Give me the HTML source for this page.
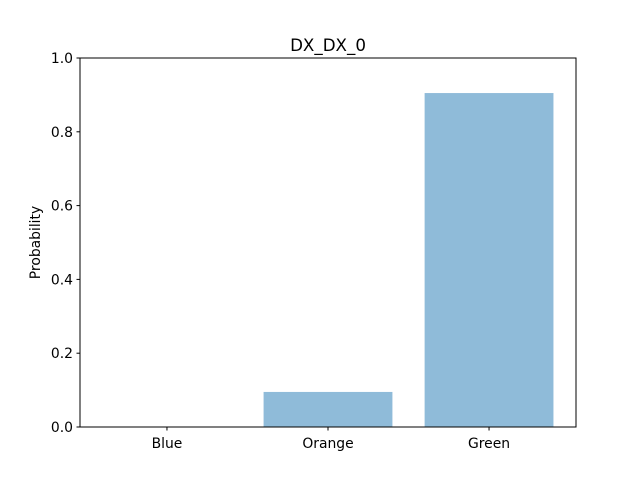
<!DOCTYPE html>
<html><head><meta charset="utf-8"><style>
body{margin:0;background:#fff;}
svg{display:block;font-family:"DejaVu Sans","Liberation Sans",sans-serif;}
</style></head><body>
<svg id="chart" width="640" height="480">
<rect width="640" height="480" fill="#fff"/>
<text x="328" y="51" text-anchor="middle" font-size="16.7">DX_DX_0</text>
<text transform="translate(40,242.5) rotate(-90)" text-anchor="middle" font-size="13.9">Probability</text>
<g id="bars"></g><g id="yticks"></g><g id="xticks"></g>
<rect x="80" y="58" width="496" height="369" fill="none" stroke="#000" stroke-width="1"/>
</svg>
<script>
const categories = ["Blue","Orange","Green"];
const values = [0.0, 0.095, 0.905];
const yTickLabels = ["0.0","0.2","0.4","0.6","0.8","1.0"];
const yTickValues = [0,0.2,0.4,0.6,0.8,1.0];

const L=80,R=576,T=58,B=427;
const xmin=-0.54,xmax=2.54;
const xs=v=>L+(v-xmin)/(xmax-xmin)*(R-L);
const ys=v=>B-v*(B-T);
const NS="http://www.w3.org/2000/svg";
const bars=document.getElementById('bars'),yt=document.getElementById('yticks'),xt=document.getElementById('xticks');
function mk(t,a,p){const e=document.createElementNS(NS,t);for(const k in a)e.setAttribute(k,a[k]);p.appendChild(e);return e;}
categories.forEach((c,i)=>{
  const x0=xs(i-0.4),x1=xs(i+0.4);
  const r=mk('rect',{x:x0,y:ys(values[i]),width:x1-x0,height:ys(0)-ys(values[i]),fill:'#1f77b4','fill-opacity':0.5},bars);
  
  
  const tk=mk('line',{x1:xs(i),x2:xs(i),y1:B,y2:B+3.5,stroke:'#000'},xt);
  
  
  const tx=mk('text',{x:xs(i),y:B+21,'text-anchor':'middle','font-size':13.9},xt);
  tx.textContent=c;
  
  
});
yTickValues.forEach((v,i)=>{
  const tk=mk('line',{x1:L-3.5,x2:L,y1:ys(v),y2:ys(v),stroke:'#000'},yt);
  
  
  const tx=mk('text',{x:L-7,y:ys(v)+5,'text-anchor':'end','font-size':13.9},yt);
  tx.textContent=yTickLabels[i];
  
  
});
</script>
</body></html>
